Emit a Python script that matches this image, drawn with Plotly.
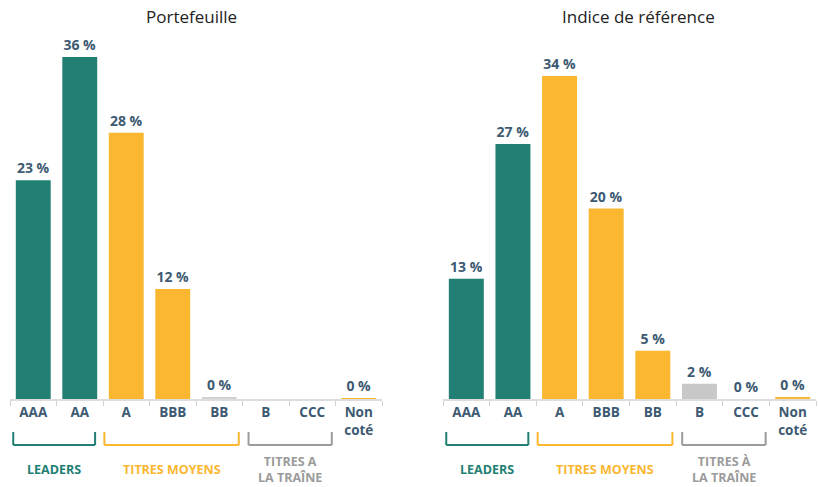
import plotly.graph_objects as go

categories = ["AAA", "AA", "A", "BBB", "BB", "B", "CCC", "Non<br>coté"]
portefeuille = [23.1, 36.1, 28.1, 11.6, 0.2, None, None, 0.1]
indice = [12.7, 26.9, 34.1, 20.1, 5.1, 1.6, 0, 0.2]

groups_left = ["LEADERS", "TITRES MOYENS", "TITRES A<br>LA TRAÎNE"]
groups_right = ["LEADERS", "TITRES MOYENS", "TITRES À<br>LA TRAÎNE"]
titles = ["Portefeuille", "Indice de référence"]

TEAL = "#217f73"
ORANGE = "#fbb72f"
GRAY = "#9b9b9b"
LIGHT = "#d2d2d2"
TEXT = "#3d5a72"

colors_left = [TEAL, TEAL, ORANGE, ORANGE, LIGHT, LIGHT, LIGHT, ORANGE]
colors_right = [TEAL, TEAL, ORANGE, ORANGE, ORANGE, "#c8c8c8", "rgba(0,0,0,0)", ORANGE]

FONT = "Open Sans"

fig = go.Figure()
for vals, cols, xa, ya in [(portefeuille, colors_left, "x", "y"),
                           (indice, colors_right, "x2", "y2")]:
    fig.add_trace(go.Bar(
        x=categories, y=vals, xaxis=xa, yaxis=ya,
        marker=dict(color=cols, line=dict(width=0)),
        texttemplate="%{y:.0f} %", textposition="outside",
        textfont=dict(family=FONT, size=14, color=TEXT, weight="bold"),
        cliponaxis=False, hoverinfo="skip",
    ))

xcommon = dict(type="category", categoryorder="array", categoryarray=categories,
               range=[-0.5, 7.5], showline=True, linecolor="#dddddd", linewidth=2,
               ticks="outside", tickson="boundaries", ticklen=5, tickcolor="#d0d0d0",
               tickwidth=1, showgrid=False, zeroline=False,
               tickfont=dict(family=FONT, size=13.5, color=TEXT, weight="bold"),
               fixedrange=True)
ycommon = dict(range=[0, 40], visible=False, domain=[88 / 487, 467 / 487], fixedrange=True)

fig.update_layout(
    width=818, height=487,
    margin=dict(l=0, r=0, t=0, b=0),
    paper_bgcolor="white", plot_bgcolor="white",
    showlegend=False, bargap=0.25,
    xaxis=dict(domain=[10 / 818, 382 / 818], anchor="y", **xcommon),
    yaxis=dict(anchor="x", **ycommon),
    xaxis2=dict(domain=[443 / 818, 816 / 818], anchor="y2", **xcommon),
    yaxis2=dict(anchor="x2", **ycommon),
)

# Titles
for t, xp in zip(titles, [191 / 818, 638 / 818]):
    fig.add_annotation(text=t, xref="paper", yref="paper", x=xp, y=1 - 16 / 487,
                       showarrow=False, yanchor="middle", xanchor="center",
                       font=dict(family=FONT, size=17, color="#222222"))

# Group brackets and labels
spans = [(-0.43, 1.33), (1.53, 4.42), (4.63, 6.42)]
gcolors = [TEAL, ORANGE, GRAY]
y_top = (487 - 432) / 487
y_bot = (487 - 445) / 487
y_lab = (487 - 469) / 487
for xa, names in [("x", groups_left), ("x2", groups_right)]:
    for (a, b), c, name in zip(spans, gcolors, names):
        line = dict(color=c, width=2)
        fig.add_shape(type="line", xref=xa, yref="paper", x0=a, x1=a, y0=y_top, y1=y_bot, line=line)
        fig.add_shape(type="line", xref=xa, yref="paper", x0=a, x1=b, y0=y_bot, y1=y_bot, line=line)
        fig.add_shape(type="line", xref=xa, yref="paper", x0=b, x1=b, y0=y_top, y1=y_bot, line=line)
        fig.add_annotation(text=name, xref=xa, yref="paper", x=(a + b) / 2, y=y_lab,
                           showarrow=False, yanchor="middle",
                           font=dict(family=FONT, size=12.5, color=c, weight="bold"))

fig.write_html("out.html", config={"displayModeBar": False},
               post_script="document.body.style.margin='0';document.body.style.overflow='hidden';")
